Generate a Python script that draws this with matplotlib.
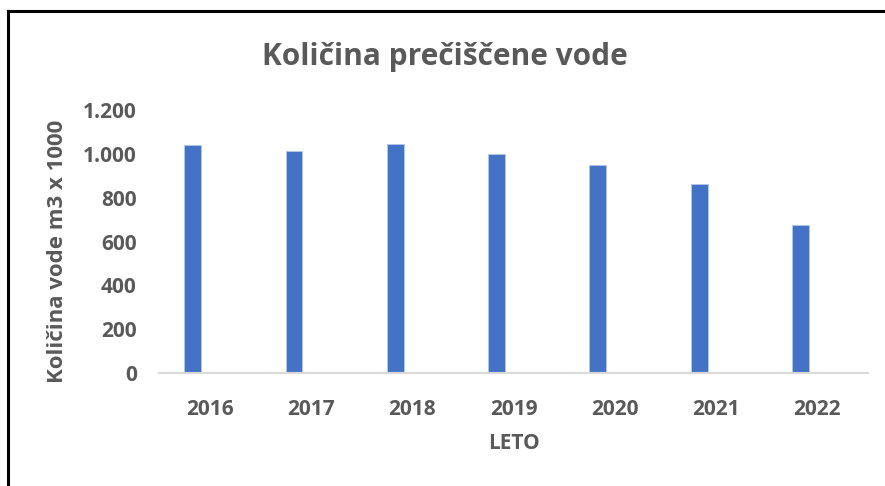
import numpy as np
import matplotlib.pyplot as plt
from matplotlib.lines import Line2D
from matplotlib.ticker import FuncFormatter

years = ['2016', '2017', '2018', '2019', '2020', '2021', '2022']
kolicina = [1041, 1015, 1044, 1000, 947, 862, 674]

plt.rcParams['font.family'] = ['Open Sans', 'DejaVu Sans']
grey = '#595959'

fig = plt.figure(figsize=(8.85, 4.86), dpi=100)
ax = fig.add_axes([159 / 885, 1 - 373 / 486, (868 - 159) / 885, (373 - 110) / 486])

x = np.arange(len(years))
# excel style: bar sits in the left third of the category group
ax.bar(x - 1 / 6, kolicina, width=1 / 6, color='#4472C4', edgecolor='#B4C7E7', linewidth=0.6)

ax.set_xlim(-0.5, len(years) - 0.5)
ax.set_ylim(0, 1200)
ax.set_yticks(np.arange(0, 1201, 200))
ax.yaxis.set_major_formatter(FuncFormatter(lambda v, p: f'{int(v):,}'.replace(',', '.')))
ax.set_xticks(x)
ax.set_xticklabels(years)

for s in ['top', 'right', 'left']:
    ax.spines[s].set_visible(False)
ax.spines['bottom'].set_color('#D9D9D9')
ax.spines['bottom'].set_linewidth(1.5)
ax.tick_params(axis='both', length=0, labelcolor=grey, labelsize=15)
ax.tick_params(axis='y', pad=16)
ax.tick_params(axis='x', pad=19)
for lbl in ax.get_xticklabels() + ax.get_yticklabels():
    lbl.set_fontweight('bold')

fig.text(445 / 885, 1 - 57 / 486, 'Količina prečiščene vode', ha='center', va='center',
         fontsize=21.5, fontweight='bold', color=grey)
fig.text(514 / 885, 1 - 443 / 486, 'LETO', ha='center', va='center',
         fontsize=15, fontweight='bold', color=grey)
fig.text(58 / 885, 1 - 251 / 486, 'Količina vode m3 x 1000', ha='center', va='center',
         rotation=90, fontsize=16, fontweight='bold', color=grey)

# outer frame (left and top edges visible)
fig.add_artist(Line2D([7.5 / 885, 7.5 / 885], [0, 1 - 11 / 486], color='black', lw=2.2,
                      transform=fig.transFigure))
fig.add_artist(Line2D([7.5 / 885, 1], [1 - 11 / 486, 1 - 11 / 486], color='black', lw=2.2,
                      transform=fig.transFigure))

fig.savefig('out.png', dpi=100)
